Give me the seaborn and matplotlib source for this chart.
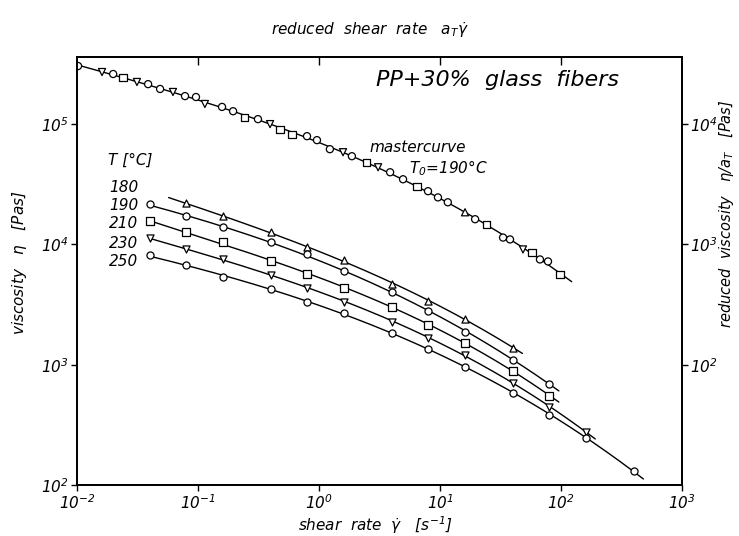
import numpy as np
import pandas as pd
import matplotlib
matplotlib.use("Agg")
import matplotlib.pyplot as plt
import seaborn as sns

# ---------------- data ----------------
# mastercurve (reduced, T0 = 190 C)
master_x = [0.0102, 0.0161, 0.0199, 0.0240, 0.0313, 0.0387, 0.0486, 0.0621, 0.0781, 0.0962,
            0.114, 0.158, 0.195, 0.244, 0.313, 0.394, 0.476, 0.598, 0.796, 0.962,
            1.23, 1.58, 1.87, 2.49, 3.08, 3.87, 4.95, 6.46, 7.96, 9.62,
            11.6, 16.1, 19.5, 24.4, 33.2, 37.9, 48.5, 57.6, 67.0, 78.1, 98.1]
master_y = [304000, 271000, 261000, 246000, 224000, 215000, 196000, 185000, 171000, 168000,
            147000, 139000, 128000, 114000, 110000, 100000, 90900, 82500, 79400, 73600,
            61900, 58400, 54100, 48200, 43800, 39800, 34800, 30400, 27700, 24600,
            22400, 18500, 16200, 14700, 11400, 11000, 9080, 8580, 7500, 7220, 5620]
master_marker = ['o', 'v', 'o', 's', 'v', 'o', 'o', 'v', 'o', 'o',
                 'v', 'o', 'o', 's', 'o', 'v', 's', 's', 'o', 'o',
                 'o', 'v', 'o', 's', 'v', 'o', 'o', 's', 'o', 'o',
                 'o', '^', 'o', 's', 'o', 'o', 'v', 's', 'o', 'o', 's']

temps = ['180', '190', '210', '230', '250']
temp_marker = {'180': '^', '190': 'o', '210': 's', '230': 'v', '250': 'o'}

x_180 = [0.08, 0.16, 0.4, 0.8, 1.6, 4, 8, 16, 40]
y_180 = [21980, 17100, 12590, 9440, 7360, 4730, 3410, 2420, 1385]
x_190 = [0.04, 0.08, 0.16, 0.4, 0.8, 1.6, 4, 8, 16, 40, 80]
y_190 = [21540, 17100, 13860, 10380, 8260, 5960, 4060, 2820, 1880, 1100, 695]
x_210 = [0.04, 0.08, 0.16, 0.4, 0.8, 1.6, 4, 8, 16, 40, 80]
y_210 = [15550, 12590, 10380, 7220, 5730, 4380, 3040, 2150, 1525, 891, 552]
x_230 = [0.04, 0.08, 0.16, 0.4, 0.8, 1.6, 4, 8, 16, 40, 80, 160]
y_230 = [11220, 9080, 7500, 5620, 4380, 3350, 2280, 1680, 1210, 708, 447, 277]
x_250 = [0.04, 0.08, 0.16, 0.4, 0.8, 1.6, 4, 8, 16, 40, 80, 160, 400]
y_250 = [8100, 6680, 5410, 4220, 3290, 2710, 1850, 1360, 962, 584, 383, 246, 131]

series_x = {'180': x_180, '190': x_190, '210': x_210, '230': x_230, '250': x_250}
series_y = {'180': y_180, '190': y_190, '210': y_210, '230': y_230, '250': y_250}

x_ticks = [1e-2, 1e-1, 1e0, 1e1, 1e2, 1e3]
y_ticks = [1e2, 1e3, 1e4, 1e5]
ry_ticks = [1e2, 1e3, 1e4]

# ---------------- style ----------------
sns.set_theme(style="ticks")
plt.rcParams['font.family'] = ['DejaVu Sans']
plt.rcParams['mathtext.fontset'] = 'custom'
plt.rcParams['mathtext.rm'] = 'DejaVu Sans:italic'
plt.rcParams['mathtext.it'] = 'DejaVu Sans:italic'
plt.rcParams['mathtext.sf'] = 'DejaVu Sans:italic'
plt.rcParams['mathtext.default'] = 'it'
plt.rcParams['axes.linewidth'] = 1.1

W, H = 739, 536
fig = plt.figure(figsize=(W / 100, H / 100), dpi=100)
x0, x1, ytop, ybot = 77, 682, 57, 485
ax = fig.add_axes([x0 / W, 1 - ybot / H, (x1 - x0) / W, (ybot - ytop) / H])

ylo, yhi = 1e2, 10 ** 5.558


def smooth(xs, ys, xa, xb, deg=3):
    lx, ly = np.log10(xs), np.log10(ys)
    c = np.polyfit(lx, ly, deg)
    g = np.linspace(np.log10(xa), np.log10(xb), 200)
    return 10 ** g, 10 ** np.polyval(c, g)


mk_style = dict(color='black', edgecolor='black', facecolor='white', s=26, linewidth=0.9, zorder=3)

# mastercurve
gx, gy = smooth(master_x, master_y, 1e-2, master_x[-1] * 1.25)
sns.lineplot(x=gx, y=gy, ax=ax, color='black', lw=1.0, sort=False, zorder=2)
mdf = pd.DataFrame({'x': master_x, 'y': master_y, 'm': master_marker})
sns.scatterplot(data=mdf, x='x', y='y', style='m', markers={k: k for k in set(master_marker)},
                ax=ax, legend=False, **mk_style)

# temperature curves
for t in temps:
    xs, ys = series_x[t], series_y[t]
    start = xs[0] / 1.4 if t == '180' else xs[0]
    gx, gy = smooth(xs, ys, start, xs[-1] * 1.2)
    sns.lineplot(x=gx, y=gy, ax=ax, color='black', lw=1.0, sort=False, zorder=2)
    sns.scatterplot(x=xs, y=ys, marker=temp_marker[t], ax=ax, legend=False, **mk_style)

ax.set_xscale('log')
ax.set_yscale('log')
ax.set_xlim(1e-2, 1e3)
ax.set_ylim(ylo, yhi)
ax.minorticks_off()
ax.set_xticks(x_ticks)
ax.set_yticks(y_ticks)
ax.set_xticklabels([r'$10^{%d}$' % int(np.log10(v)) for v in x_ticks])
ax.set_yticklabels([r'$10^{%d}$' % int(np.log10(v)) for v in y_ticks])
ax.tick_params(axis='both', which='major', direction='out', length=4, width=1,
               labelsize=11, colors='black', pad=2)
ax.set_xlabel('')
ax.set_ylabel('')
for s in ax.spines.values():
    s.set_color('black')

# right axis: reduced viscosity
axr = ax.twinx()
axr.set_yscale('log')
axr.set_ylim(ylo / 10, yhi / 10)
axr.minorticks_off()
axr.set_yticks(ry_ticks)
axr.set_yticklabels([r'$10^{%d}$' % int(np.log10(v)) for v in ry_ticks])
axr.tick_params(axis='y', direction='out', length=4, width=1, labelsize=11, colors='black', pad=2)

# top axis: reduced shear rate (ticks only)
axt = ax.twiny()
axt.set_xscale('log')
axt.set_xlim(1e-2, 1e3)
axt.minorticks_off()
axt.set_xticks(x_ticks[1:-1])
axt.set_xticklabels([])
axt.tick_params(axis='x', direction='in', length=6, width=1, colors='black')
for a in (axr, axt):
    for s in a.spines.values():
        s.set_color('black')

# ---------------- texts ----------------
def ftxt(px, py, s, **kw):
    fig.text(px / W, 1 - py / H, s, ha=kw.pop('ha', 'center'), va=kw.pop('va', 'center'),
             fontstyle='italic', color='black', **kw)

ftxt(370, 30, r'reduced  shear  rate   $a_T\dot{\gamma}$', fontsize=11)
ftxt(375, 525, r'shear  rate  $\dot{\gamma}$   [$s^{-1}$]', fontsize=11)
ftxt(20, 263, r'viscosity   $\eta$   [Pas]', fontsize=11, rotation=90)
ftxt(726, 214, r'reduced  viscosity   $\eta/a_T$   [Pas]', fontsize=10.5, rotation=90)
ftxt(498, 80, 'PP+30%  glass  fibers', fontsize=16)
ftxt(418, 148, 'mastercurve', fontsize=11)
ftxt(448, 168, r'$T_0$=190°C', fontsize=11)
ftxt(130, 160, 'T [°C]', fontsize=11)
lab_y = {'180': 188, '190': 206, '210': 224, '230': 243, '250': 262}
for t in temps:
    ftxt(124, lab_y[t], t, fontsize=11)

fig.savefig('out.png', dpi=100, facecolor='white')
